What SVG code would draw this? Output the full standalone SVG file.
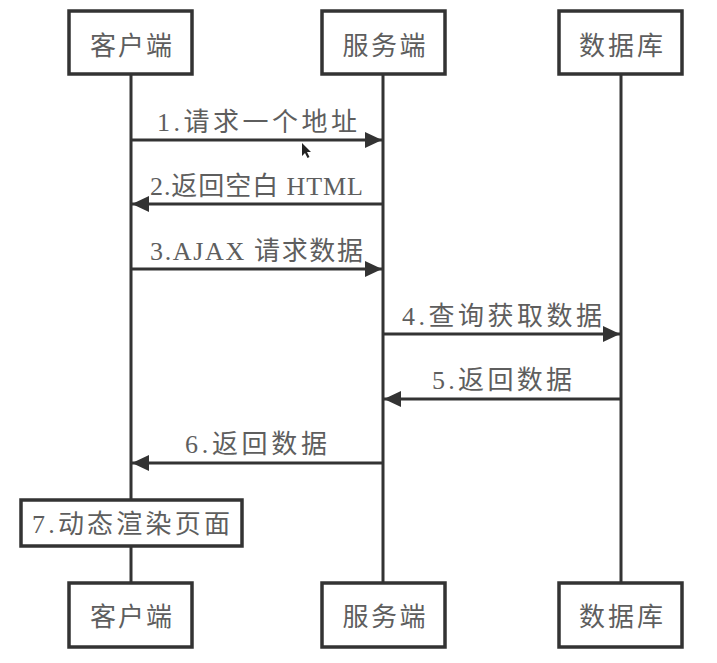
<svg xmlns="http://www.w3.org/2000/svg" width="717" height="663" viewBox="0 0 717 663">
<defs>
<style>
.box{fill:#fff;stroke:#333;stroke-width:3.5}
.life{stroke:#333;stroke-width:3;fill:none}
.msg{stroke:#333;stroke-width:3;fill:none}
.t{font-family:"Liberation Serif","Noto Sans CJK SC",serif;fill:#5e5e5e;font-size:26px}
.h{font-family:"Noto Sans CJK SC",sans-serif;fill:#5e5e5e;font-size:26px;text-anchor:middle}
</style>
<marker id="ah" markerUnits="userSpaceOnUse" markerWidth="18" markerHeight="18" viewBox="0 0 18 18" refX="17" refY="9" orient="auto">
<path d="M0,1 L17,9 L0,17 Z" fill="#333"/>
</marker>
</defs>
<rect width="717" height="663" fill="#fff"/>
<g id="lifelines">
<line class="life" x1="131" y1="75" x2="131" y2="499"/>
<line class="life" x1="131" y1="547" x2="131" y2="582"/>
<line class="life" x1="383" y1="75" x2="383" y2="582"/>
<line class="life" x1="621" y1="75" x2="621" y2="582"/>
</g>
<g id="connectors">
<line class="msg" x1="131" y1="140" x2="382" y2="140" marker-end="url(#ah)"/>
<text class="t" x="157" y="131" textLength="200" lengthAdjust="spacing">1.请求一个地址</text>
<line class="msg" x1="383" y1="204" x2="132" y2="204" marker-end="url(#ah)"/>
<text class="t" x="150" y="195" textLength="213" lengthAdjust="spacing">2.返回空白 HTML</text>
<line class="msg" x1="131" y1="269" x2="382" y2="269" marker-end="url(#ah)"/>
<text class="t" x="150" y="260" textLength="213" lengthAdjust="spacing">3.AJAX 请求数据</text>
<line class="msg" x1="383" y1="334" x2="620" y2="334" marker-end="url(#ah)"/>
<text class="t" x="402" y="325" textLength="200" lengthAdjust="spacing">4.查询获取数据</text>
<line class="msg" x1="621" y1="399" x2="384" y2="399" marker-end="url(#ah)"/>
<text class="t" x="432" y="389" textLength="140" lengthAdjust="spacing">5.返回数据</text>
<line class="msg" x1="383" y1="463" x2="132" y2="463" marker-end="url(#ah)"/>
<text class="t" x="185" y="453" textLength="142" lengthAdjust="spacing">6.返回数据</text>
</g>
<g id="client-top"><rect class="box" x="69" y="11" width="123" height="63"/><text class="h" x="131" y="55" textLength="82">客户端</text></g>
<g id="server-top"><rect class="box" x="322" y="11" width="123" height="63"/><text class="h" x="384" y="55" textLength="83">服务端</text></g>
<g id="db-top"><rect class="box" x="559" y="11" width="123" height="63"/><text class="h" x="621" y="55" textLength="84">数据库</text></g>
<g id="render"><rect class="box" x="21" y="500" width="221" height="46"/><text class="t" x="32" y="533" textLength="198" lengthAdjust="spacing">7.动态渲染页面</text></g>
<g id="client-bottom"><rect class="box" x="69" y="583" width="123" height="64"/><text class="h" x="131" y="626" textLength="82">客户端</text></g>
<g id="server-bottom"><rect class="box" x="322" y="583" width="123" height="64"/><text class="h" x="384" y="626" textLength="83">服务端</text></g>
<g id="db-bottom"><rect class="box" x="559" y="583" width="123" height="64"/><text class="h" x="621" y="626" textLength="84">数据库</text></g>
<path d="M302,143 L302,156 L305,153 L307.5,158 L309.5,157 L307,152 L311,152 Z" fill="#222"/>
</svg>
